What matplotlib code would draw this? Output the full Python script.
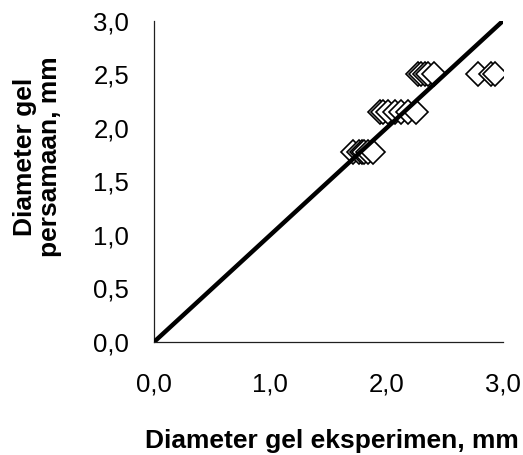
import numpy as np
import matplotlib.pyplot as plt
from matplotlib.ticker import FuncFormatter

plt.rcParams['font.family'] = ['Liberation Sans', 'DejaVu Sans']

# data
x_exp = [2.27, 2.30, 2.33, 2.36, 2.41, 2.79, 2.90, 2.93,
         1.94, 1.97, 2.01, 2.07, 2.12, 2.18, 2.25,
         1.71, 1.76, 1.79, 1.81, 1.84, 1.88]
y_eq = [2.50, 2.50, 2.50, 2.50, 2.50, 2.50, 2.50, 2.50,
        2.15, 2.15, 2.15, 2.15, 2.15, 2.15, 2.15,
        1.78, 1.78, 1.78, 1.78, 1.78, 1.78]
line_x = [0.0, 3.0]
line_y = [0.0, 3.0]
xticks = [0.0, 1.0, 2.0, 3.0]
yticks = [0.0, 0.5, 1.0, 1.5, 2.0, 2.5, 3.0]

fig = plt.figure(figsize=(5.23, 4.55), dpi=100)
ax = fig.add_axes([0.2945, 0.2484, 0.667, 0.7055])

ax.plot(x_exp, y_eq, linestyle='none', marker='D', markersize=12,
        markerfacecolor='white', markeredgecolor='black', markeredgewidth=1.2, zorder=2)
ax.plot(line_x, line_y, color='black', linewidth=3.2, zorder=3)

ax.set_xlim(0, 3)
ax.set_ylim(0, 3)
ax.set_xticks(xticks)
ax.set_yticks(yticks)
comma = FuncFormatter(lambda v, p: ('%.1f' % v).replace('.', ','))
ax.xaxis.set_major_formatter(comma)
ax.yaxis.set_major_formatter(comma)
ax.tick_params(length=0, labelsize=18.5, colors='black')
ax.tick_params(axis='x', pad=22)
ax.tick_params(axis='y', pad=18)

for s in ['top', 'right']:
    ax.spines[s].set_visible(False)
for s in ['left', 'bottom']:
    ax.spines[s].set_color('#202020')
    ax.spines[s].set_linewidth(0.9)

fig.text(0.634, 0.0154, 'Diameter gel eksperimen, mm', fontsize=19,
         fontweight='bold', ha='center', va='baseline')
fig.text(0.0717, 0.655, 'Diameter gel\npersamaan, mm', fontsize=19,
         fontweight='bold', ha='center', va='center', rotation=90,
         linespacing=1.05, multialignment='center')

fig.savefig('out.png', dpi=100)
